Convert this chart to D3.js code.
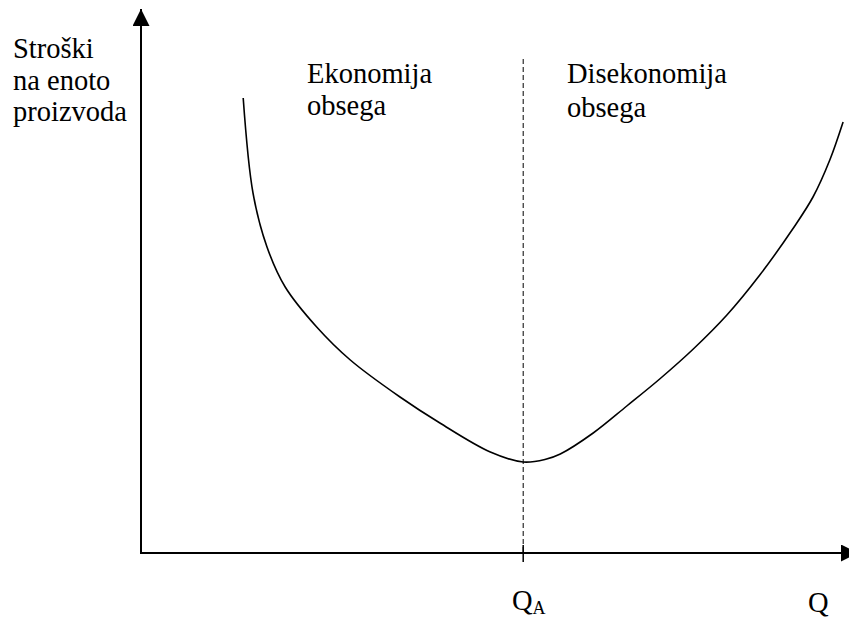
<!DOCTYPE html>
<html>
<head>
<meta charset="utf-8">
<script src="https://cdn.jsdelivr.net/npm/d3@7"></script>
<style>
  body { margin: 0; background: #fff; }
</style>
</head>
<body>
<div id="chart"></div>
<script>
const width = 849,
    height = 619;

// Unit cost curve (Q, cost)
const curveQ = [14.6, 16, 18, 20.6, 25.1, 29.9, 37, 42.7, 49.9, 54.6, 57.7, 59.9, 64.6, 69.4, 74.1, 78.9, 83.7, 88.4, 93.1, 96, 98.4, 100.3];
const curveCost = [91, 72, 61.2, 53.2, 45.2, 38.6, 31.2, 26, 20.2, 18.2, 18.7, 19.8, 24, 29.4, 34.8, 40.8, 47.6, 55.6, 64.8, 71.2, 78.6, 86.2];

// Minimum point of the curve
const qA = 54.6;

const yLabelLines = ["Stroški", "na enoto", "proizvoda"];
const leftLabel = ["Ekonomija", "obsega"];
const rightLabel = ["Disekonomija", "obsega"];

const serif = "'Liberation Serif', 'Times New Roman', Times, 'DejaVu Serif', serif";

let svg = d3.select('#chart').append('svg')
    .attr('width', width)
    .attr('height', height);

// Scales found by lining up with the picture
let x = d3.scaleLinear().domain([0, 100]).range([141, 841]);
let y = d3.scaleLinear().domain([0, 100]).range([553, 53]);

// Arrow heads
let defs = svg.append("defs");
defs.append("marker")
    .attr("id", "arrow")
    .attr("viewBox", "0 0 10 10")
    .attr("refX", 10)
    .attr("refY", 5)
    .attr("markerUnits", "userSpaceOnUse")
    .attr("markerWidth", 17)
    .attr("markerHeight", 17)
    .attr("orient", "auto")
    .append("path")
    .attr("d", "M0,0 L10,5 L0,10 Z")
    .attr("fill", "#000");

// y axis
svg.append("line")
    .attr("x1", x(0)).attr("y1", y(0) + 1)
    .attr("x2", x(0)).attr("y2", 9)
    .attr("stroke", "#000")
    .attr("stroke-width", 2)
    .attr("marker-end", "url(#arrow)");

// x axis
svg.append("line")
    .attr("x1", x(0) - 1).attr("y1", y(0))
    .attr("x2", 858).attr("y2", y(0))
    .attr("stroke", "#000")
    .attr("stroke-width", 2)
    .attr("marker-end", "url(#arrow)");

// dashed line at Q_A
svg.append("line")
    .attr("x1", x(qA)).attr("y1", y(98.8))
    .attr("x2", x(qA)).attr("y2", y(0))
    .attr("stroke", "#000")
    .attr("stroke-width", 1)
    .attr("stroke-dasharray", "5,3");

// small tick on the axis
svg.append("line")
    .attr("x1", x(qA)).attr("y1", y(0) - 8)
    .attr("x2", x(qA)).attr("y2", y(0) + 9)
    .attr("stroke", "#000")
    .attr("stroke-width", 1.5);

// the curve
let line = d3.line()
    .x(d => x(d[0]))
    .y(d => y(d[1]))
    .curve(d3.curveCatmullRom.alpha(0.5));

svg.append("path")
    .datum(d3.zip(curveQ, curveCost))
    .attr("d", line)
    .attr("fill", "none")
    .attr("stroke", "#000")
    .attr("stroke-width", 1.6);

// texts
function addLines(lines, x0, y0, step) {
    lines.forEach(function (t, i) {
        svg.append("text")
            .attr("x", x0)
            .attr("y", y0 + i * step)
            .attr("font-family", serif)
            .attr("font-size", 28.5)
            .attr("fill", "#000")
            .text(t);
    });
}

addLines(yLabelLines, 13, 58, 31.5);
addLines(leftLabel, 307, 83, 32);
addLines(rightLabel, 567, 83, 34);

svg.append("text")
    .attr("x", 808)
    .attr("y", 612)
    .attr("font-family", serif)
    .attr("font-size", 28.5)
    .text("Q");

let qa = svg.append("text")
    .attr("x", 512)
    .attr("y", 610)
    .attr("font-family", serif)
    .attr("font-size", 28.5)
    .text("Q");
qa.append("tspan")
    .attr("dy", 4)
    .attr("font-size", 18)
    .text("A");
</script>
</body>
</html>
